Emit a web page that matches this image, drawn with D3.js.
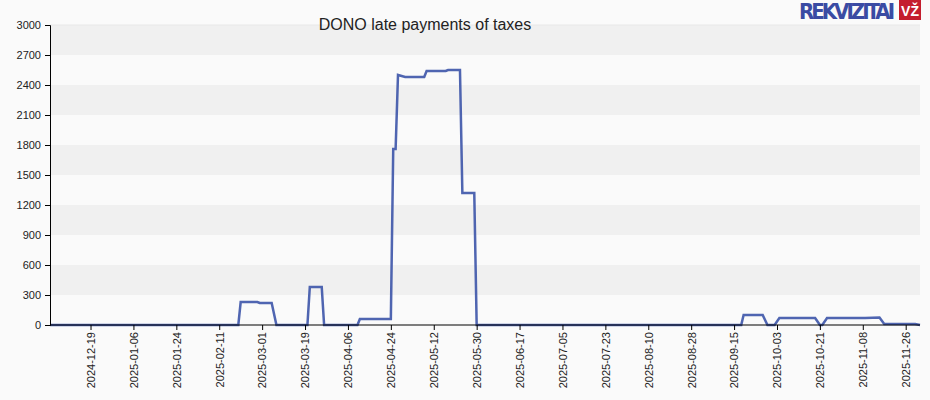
<!DOCTYPE html>
<html lang="en">
<head>
  <meta charset="UTF-8">
  <title>DONO late payments of taxes</title>
  <script src="https://d3js.org/d3.v7.min.js"></script>
  <style>
    body { margin: 0; background: #fafafa; }
    svg { font-family: "Liberation Sans", Arial, sans-serif; }
  </style>
</head>
<body>
  <svg id="chart" width="930" height="400"></svg>
  <script>
    const dates = ["2024-12-02","2025-02-19","2025-02-20","2025-02-27","2025-02-28","2025-03-05","2025-03-07",
      "2025-03-20","2025-03-21","2025-03-26","2025-03-27","2025-04-10","2025-04-11","2025-04-24",
      "2025-04-25","2025-04-26","2025-04-27","2025-04-30","2025-05-08","2025-05-09","2025-05-17","2025-05-18",
      "2025-05-23","2025-05-24","2025-05-29","2025-05-30","2025-09-18","2025-09-19","2025-09-27","2025-09-29",
      "2025-10-02","2025-10-04","2025-10-19","2025-10-21","2025-10-22","2025-10-24","2025-11-09","2025-11-15",
      "2025-11-17","2025-11-30","2025-12-02"];
    const values = [0,0,230,230,220,220,0,
      0,380,380,0,0,60,60,
      1760,1760,2500,2480,2480,2540,2540,2550,
      2550,1320,1320,0,0,100,100,0,
      0,70,70,0,0,70,70,75,
      10,10,0];
    const yTicks = [0,300,600,900,1200,1500,1800,2100,2400,2700,3000];
    const xTicks = ["2024-12-19","2025-01-06","2025-01-24","2025-02-11","2025-03-01","2025-03-19","2025-04-06",
      "2025-04-24","2025-05-12","2025-05-30","2025-06-17","2025-07-05","2025-07-23","2025-08-10","2025-08-28",
      "2025-09-15","2025-10-03","2025-10-21","2025-11-08","2025-11-26"];

    const parse = d3.utcParse("%Y-%m-%d");
    const data = dates.map((d, i) => ({ date: parse(d), value: values[i] }));
    const svg = d3.select("#chart");
    const m = { left: 50, right: 920, top: 25, bottom: 325 };

    const x = d3.scaleUtc().domain([parse("2024-12-02"), parse("2025-12-02")]).range([m.left, m.right]);
    const y = d3.scaleLinear().domain([0, 3000]).range([m.bottom, m.top]);

    // bands
    for (let i = 0; i < yTicks.length - 1; i++) {
      svg.append("rect")
        .attr("x", m.left).attr("width", m.right - m.left)
        .attr("y", y(yTicks[i + 1])).attr("height", y(yTicks[i]) - y(yTicks[i + 1]))
        .attr("fill", i % 2 === 1 ? "#f0f0f0" : "#fafafa");
    }
    svg.append("line").attr("x1", m.left).attr("x2", m.right)
      .attr("y1", y(3000)).attr("y2", y(3000)).attr("stroke", "#e8e8e8");

    svg.append("path").datum(data)
      .attr("fill", "none").attr("stroke", "#3c54a8").attr("stroke-width", 2.5)
      .attr("stroke-opacity", 0.9)
      .attr("d", d3.line().x(d => x(d.date)).y(d => y(d.value)));

    const yAxis = svg.append("g").attr("transform", `translate(${m.left},0)`)
      .call(d3.axisLeft(y).tickValues(yTicks).tickSize(5).tickPadding(4).tickFormat(d3.format("d")));
    yAxis.selectAll("text").attr("font-size", 11).attr("fill", "#222");

    const xAxis = svg.append("g").attr("transform", `translate(0,${m.bottom})`)
      .call(d3.axisBottom(x).tickValues(xTicks.map(parse)).tickSize(5).tickFormat(d3.utcFormat("%Y-%m-%d")));
    xAxis.select(".domain").attr("d", `M${m.left},0H${m.right}`);
    xAxis.selectAll("text")
      .attr("font-size", 11).attr("fill", "#222")
      .attr("transform", "rotate(-90)")
      .attr("text-anchor", "end").attr("dx", "-7").attr("dy", "0.35em").attr("y", 0).attr("x", 0);
    svg.selectAll(".domain, .tick line").attr("stroke", "#000");

    svg.append("text").attr("x", 425).attr("y", 30).attr("text-anchor", "middle")
      .attr("font-size", 16).attr("fill", "#222").text("DONO late payments of taxes");

    // logo
    svg.append("text").attr("x", 895).attr("y", 19).attr("text-anchor", "end")
      .attr("font-family", "'DejaVu Sans Condensed', sans-serif").attr("font-weight", "bold")
      .attr("font-size", 22).attr("fill", "#3a4ba3").attr("textLength", 96).text("REKVIZITAI");
    svg.append("rect").attr("x", 899).attr("y", 0).attr("width", 22).attr("height", 20).attr("fill", "#c41e2e");
    svg.append("text").attr("x", 910).attr("y", 16).attr("text-anchor", "middle")
      .attr("font-weight", "bold").attr("font-size", 14).attr("fill", "#fff").text("VŽ");
  </script>
</body>
</html>
